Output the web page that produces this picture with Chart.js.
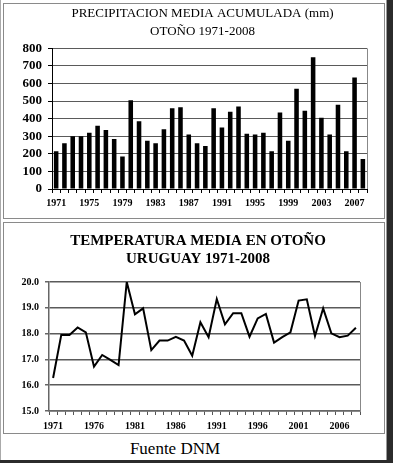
<!DOCTYPE html>
<html>
<head>
<meta charset="utf-8">
<script src="https://cdn.jsdelivr.net/npm/chart.js@4/dist/chart.umd.min.js"></script>
<style>
  html, body { margin: 0; padding: 0; background: #fff; }
  #page { position: relative; width: 393px; height: 463px; overflow: hidden; background: #fff; }
  .frame { position: absolute; border: 1px solid #8a8a8a; background: #fff; }
  #shadowR { position: absolute; left: 386px; top: 0; width: 7px; height: 463px; background: #2b2b2b; border-left: 1px solid #999; }
  #shadowB { position: absolute; left: 0; top: 460px; width: 393px; height: 3px; background: #2b2b2b; }
  #outerL { position: absolute; left: 0; top: 0; width: 1px; height: 460px; background: #aaa; }
  canvas { position: absolute; }
  #fuente { position: absolute; left: 0; width: 350px; top: 439px; text-align: center;
            font-family: "Liberation Serif", serif; font-size: 17px; color: #000; }
</style>
</head>
<body>
<div id="page">
  <div id="outerL"></div>
  <div class="frame" style="left:3px;top:3px;width:380px;height:214px;"></div>
  <div class="frame" style="left:3px;top:222px;width:380px;height:210px;"></div>
  <div id="shadowR"></div>
  <div id="shadowB"></div>
  <canvas id="lluvia" style="left:18px;top:4px;width:370px;height:214px;" width="370" height="214"></canvas>
  <canvas id="temp" style="left:14px;top:224px;width:368px;height:208px;" width="368" height="208"></canvas>
  <div id="fuente">Fuente DNM</div>
</div>
<script>
const years = [];
for (let y = 1971; y <= 2008; y++) years.push(String(y));

// precipitacion otoño (mm)
const lluvia = [215, 260, 300, 300, 320, 360, 335, 285, 185, 505,
                385, 275, 260, 340, 460, 465, 310, 260, 245, 460,
                350, 440, 470, 315, 310, 320, 215, 435, 275, 570,
                445, 750, 405, 310, 480, 215, 635, 170];

// temperatura media otoño (C)
const temperatura = [16.28, 17.95, 17.95, 18.24, 18.05, 16.72, 17.17, 16.98, 16.78, 20.0,
                     18.75, 18.98, 17.36, 17.73, 17.73, 17.87, 17.73, 17.14, 18.44, 17.86,
                     19.34, 18.36, 18.79, 18.79, 17.88, 18.59, 18.76, 17.65, 17.86, 18.05,
                     19.28, 19.33, 17.91, 18.98, 18.01, 17.86, 17.92, 18.23];

const serif = '"Liberation Serif", "Times New Roman", serif';

// borde derecho del area de datos
const bordePlot = {
    id: 'bordePlot',
    afterDraw(chart) {
        const a = chart.chartArea;
        const ctx = chart.ctx;
        ctx.save();
        ctx.strokeStyle = '#888';
        ctx.lineWidth = 1;
        ctx.beginPath();
        ctx.moveTo(a.right + 0.5, a.top);
        ctx.lineTo(a.right + 0.5, a.bottom);
        ctx.stroke();
        ctx.restore();
    }
};

// nudge the title block sideways (the original isn't centred on the canvas)
const moverTitulo = {
    id: 'moverTitulo',
    afterLayout(chart, args, opts) {
        const t = chart.titleBlock;
        if (!t) return;
        t.left += opts.dx;
        t.right += opts.dx;
    }
};

new Chart(document.getElementById('lluvia'), {
    type: 'bar',
    data: {
        labels: years,
        datasets: [{
            data: lluvia,
            backgroundColor: '#000',
            barPercentage: 0.55,
            categoryPercentage: 1
        }]
    },
    options: {
        responsive: false,
        animation: false,
        layout: { padding: { left: 0, right: 21, top: 0, bottom: 0 } },
        plugins: {
            legend: { display: false },
            tooltip: { enabled: false },
            moverTitulo: { dx: 10 },
            title: {
                display: true,
                text: ['PRECIPITACION MEDIA ACUMULADA (mm)', 'OTOÑO 1971-2008'],
                color: '#000',
                font: { family: serif, size: 13, weight: 'normal', lineHeight: 1.4 },
                padding: { top: 0, bottom: 8 }
            }
        },
        scales: {
            x: {
                grid: { display: true, drawOnChartArea: false, drawTicks: true, tickLength: 4, color: '#000' },
                border: { color: '#000' },
                ticks: {
                    autoSkip: false,
                    maxRotation: 0,
                    color: '#000',
                    padding: 4,
                    font: { family: serif, size: 10, weight: 'bold' },
                    callback: function (v, i) { return i % 4 === 0 ? years[i] : ''; }
                },
                afterFit(scale) { scale.height = 29; }
            },
            y: {
                min: 0,
                max: 800,
                ticks: {
                    stepSize: 100,
                    autoSkip: false,
                    color: '#000',
                    padding: 6,
                    font: { family: serif, size: 13, weight: 'bold' }
                },
                grid: { color: '#5a5a5a', tickLength: 4, tickColor: '#000' },
                border: { color: '#000' },
                afterFit(scale) { scale.width = 34; }
            }
        }
    },
    plugins: [bordePlot, moverTitulo]
});

new Chart(document.getElementById('temp'), {
    type: 'line',
    data: {
        labels: years,
        datasets: [{
            data: temperatura,
            borderColor: '#000',
            borderWidth: 2,
            pointRadius: 0,
            tension: 0,
            fill: false
        }]
    },
    options: {
        responsive: false,
        animation: false,
        layout: { padding: { left: 0, right: 22, top: 0, bottom: 0 } },
        plugins: {
            legend: { display: false },
            tooltip: { enabled: false },
            moverTitulo: { dx: 11 },
            title: {
                display: true,
                text: ['TEMPERATURA MEDIA EN OTOÑO', 'URUGUAY 1971-2008'],
                color: '#000',
                font: { family: serif, size: 15, weight: 'bold', lineHeight: 1.2 },
                padding: { top: 8, bottom: 14 }
            }
        },
        scales: {
            x: {
                offset: true,
                grid: { display: true, offset: true, drawOnChartArea: false, drawTicks: true, tickLength: 4, color: '#555' },
                border: { color: '#666', width: 1.5 },
                ticks: {
                    autoSkip: false,
                    maxRotation: 0,
                    color: '#000',
                    padding: 5,
                    font: { family: serif, size: 10, weight: 'bold' },
                    callback: function (v, i) { return i % 5 === 0 ? years[i] : ''; }
                },
                afterFit(scale) { scale.height = 21; }
            },
            y: {
                min: 15,
                max: 20,
                ticks: {
                    stepSize: 1,
                    autoSkip: false,
                    color: '#000',
                    padding: 6,
                    font: { family: serif, size: 10, weight: 'bold' },
                    callback: function (v) { return Number(v).toFixed(1); }
                },
                grid: { color: '#5a5a5a', lineWidth: 1.5, tickLength: 4, tickColor: '#666' },
                border: { color: '#666', width: 1.5 },
                afterFit(scale) { scale.width = 35; }
            }
        }
    },
    plugins: [bordePlot, moverTitulo]
});
</script>
</body>
</html>
